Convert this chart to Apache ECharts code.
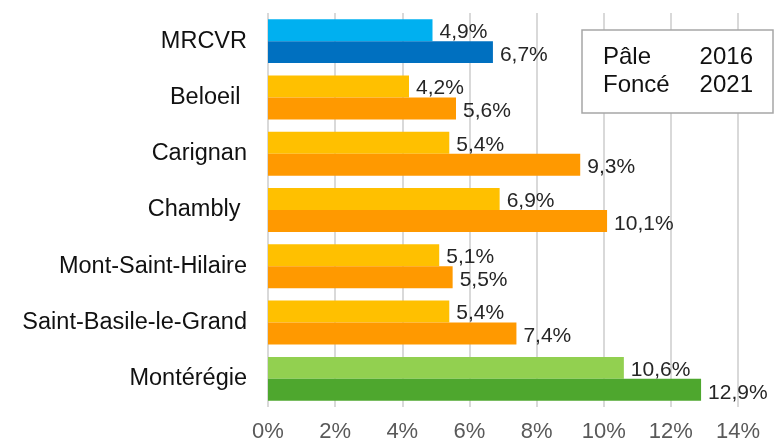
<!DOCTYPE html>
<html>
<head>
<meta charset="utf-8">
<script src="https://cdn.jsdelivr.net/npm/echarts@6/dist/echarts.min.js"></script>
<style>
  html, body { margin: 0; padding: 0; background: #fff; }
  #chart { width: 779px; height: 445px; }
</style>
</head>
<body>
<div id="chart"></div>
<script>
// categories, top to bottom
var categories = ['MRCVR', 'Beloeil ', 'Carignan', 'Chambly ', 'Mont-Saint-Hilaire', 'Saint-Basile-le-Grand', 'Montérégie'];
var values2016 = [4.9, 4.2, 5.4, 6.9, 5.1, 5.4, 10.6];
var values2021 = [6.7, 5.6, 9.3, 10.1, 5.5, 7.4, 12.9];
var xTicks = [0, 2, 4, 6, 8, 10, 12, 14];

// couleurs pâles / foncées par groupe
var paleColors = ['#00B0F0', '#FFC000', '#FFC000', '#FFC000', '#FFC000', '#FFC000', '#92D050'];
var darkColors = ['#0070C0', '#FF9900', '#FF9900', '#FF9900', '#FF9900', '#FF9900', '#4EA72E'];

var font = 'Liberation Sans, Arial, sans-serif';

function fmt(p) {
    return String(p.value.toFixed(1)).replace('.', ',') + '%';
}

function makeData(vals, colors) {
    return vals.map(function (v, i) {
        return { value: v, itemStyle: { color: colors[i] } };
    });
}

var chart = echarts.init(document.getElementById('chart'), null, { renderer: 'canvas' });

var options = {
    animation: false,
    backgroundColor: '#ffffff',
    grid: { left: 268, right: 41, top: 13, bottom: 38 },
    xAxis: {
        type: 'value',
        min: xTicks[0],
        max: xTicks[xTicks.length - 1],
        interval: 2,
        axisLine: { show: false },
        axisTick: { show: false },
        splitLine: { show: true, lineStyle: { color: '#D9D9D9', width: 2 } },
        axisLabel: {
            margin: 14,
            color: '#595959',
            fontFamily: font,
            fontSize: 22,
            formatter: '{value}%'
        }
    },
    yAxis: {
        type: 'category',
        inverse: true,
        data: categories,
        axisLine: { show: false },
        axisTick: { show: false },
        axisLabel: {
            margin: 21,
            color: '#111111',
            fontFamily: font,
            fontSize: 23.5
        }
    },
    series: [
        {
            name: '2016',
            type: 'bar',
            barGap: '0%',
            barCategoryGap: '22%',
            data: makeData(values2016, paleColors),
            label: {
                show: true,
                position: 'right',
                distance: 7,
                offset: [0, 2],
                color: '#262626',
                fontFamily: font,
                fontSize: 21,
                formatter: fmt
            }
        },
        {
            name: '2021',
            type: 'bar',
            barGap: '0%',
            barCategoryGap: '22%',
            data: makeData(values2021, darkColors),
            label: {
                show: true,
                position: 'right',
                distance: 7,
                offset: [0, 3],
                color: '#262626',
                fontFamily: font,
                fontSize: 21,
                formatter: fmt
            }
        }
    ],
    graphic: [
        {
            type: 'rect',
            shape: { x: 582, y: 30, width: 191, height: 83 },
            style: { fill: '#ffffff', stroke: '#A6A6A6', lineWidth: 1.5 },
            z: 10
        },
        { type: 'text', x: 603, y: 57, z: 11, style: { text: 'Pâle', font: '24px ' + font, fill: '#111111', textVerticalAlign: 'middle' } },
        { type: 'text', x: 753, y: 57, z: 11, style: { text: '2016', font: '24px ' + font, fill: '#111111', textAlign: 'right', textVerticalAlign: 'middle' } },
        { type: 'text', x: 603, y: 85, z: 11, style: { text: 'Foncé', font: '24px ' + font, fill: '#111111', textVerticalAlign: 'middle' } },
        { type: 'text', x: 753, y: 85, z: 11, style: { text: '2021', font: '24px ' + font, fill: '#111111', textAlign: 'right', textVerticalAlign: 'middle' } }
    ]
};

chart.setOption(options);
</script>
</body>
</html>
